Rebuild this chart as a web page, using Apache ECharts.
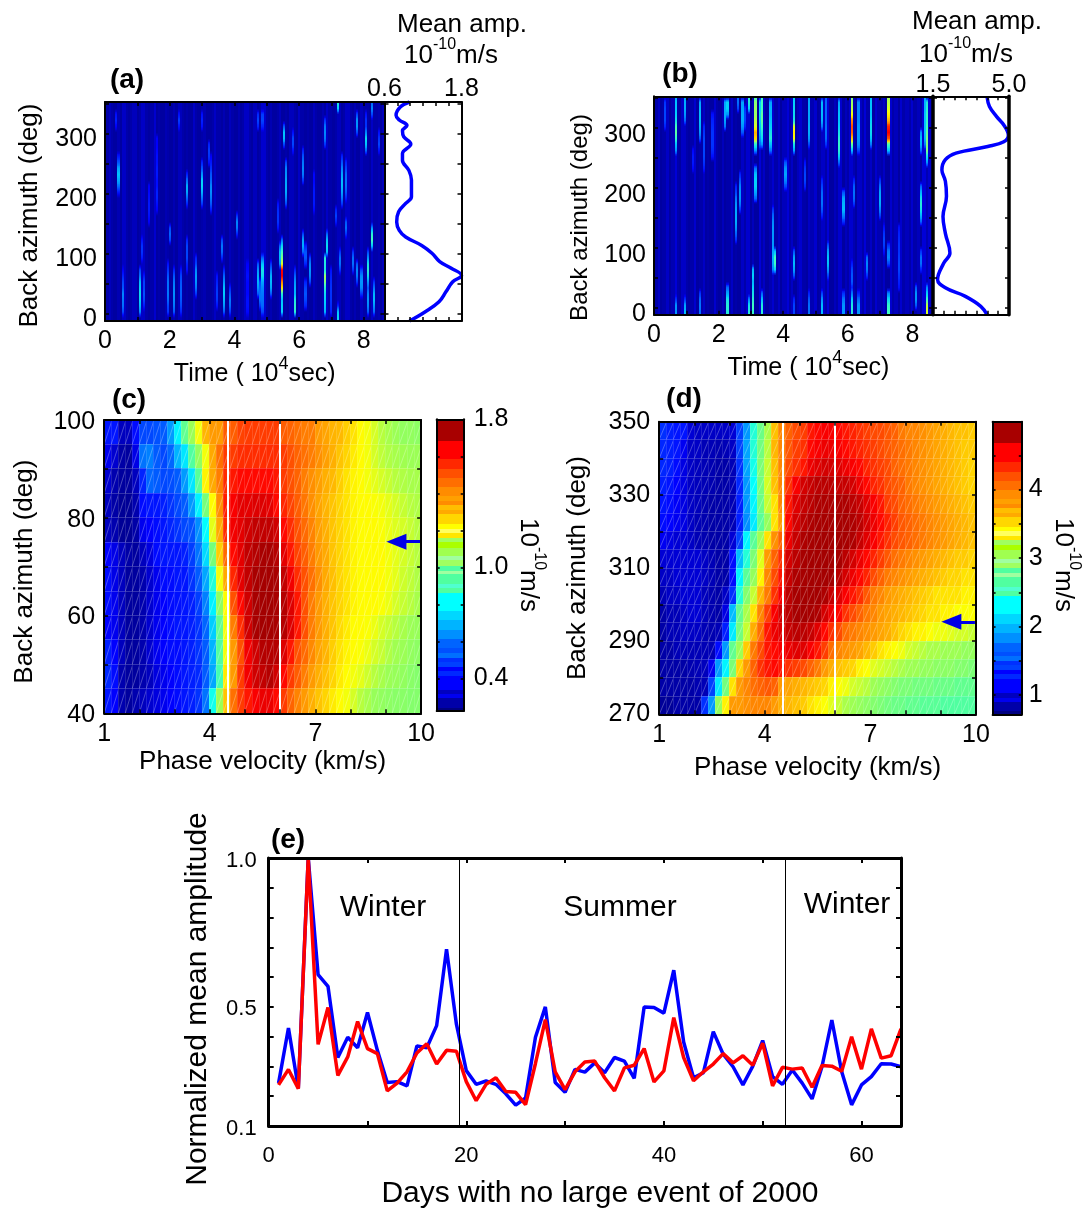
<!DOCTYPE html>
<html>
<head>
<meta charset="utf-8">
<title>Mean amplitude panels</title>
<script src="https://cdn.jsdelivr.net/npm/echarts@6/dist/echarts.min.js"></script>
<style>
html,body{margin:0;padding:0;background:#fff;}
#chart{width:1088px;height:1210px;}
</style>
</head>
<body>
<div id="chart"></div>
<script>
// ---- panel (e)
var days = [];
for (var d = 1; d <= 64; d++) days.push(d);
var blueAmp = [.244,.429,.227,1,.608,.569,.33,.398,.363,.481,.354,.246,.249,.235,.369,.363,.437,.694,.442,.286,.24,.251,.24,.208,.17,.194,.398,.5,.246,.213,.29,.281,.312,.279,.33,.318,.26,.5,.498,.479,.623,.382,.262,.279,.417,.341,.299,.238,.301,.387,.266,.24,.288,.244,.191,.299,.456,.282,.171,.238,.266,.309,.308,.299];
var redAmp = [.238,.29,.225,1,.374,.498,.27,.332,.451,.36,.343,.218,.244,.282,.345,.376,.308,.354,.351,.249,.185,.24,.262,.216,.213,.172,.31,.457,.282,.222,.282,.315,.318,.262,.218,.295,.304,.36,.248,.285,.464,.33,.252,.282,.308,.343,.312,.336,.304,.378,.235,.297,.291,.295,.23,.303,.301,.284,.4,.291,.426,.328,.336,.426];
var seasonLines = [19.25, 52.3];

// ---- mean amplitude curves (a), (b)
var curveAAz  = [353,345,331,323,314,305,295,283,267,256,239,223,195,184,170,153,139,128,114,101,87,76,64,53,37,20,3,-12];
var curveAAmp = [.99,.85,.78,.83,.95,.88,.90,1.01,.88,.88,.98,1.02,1.02,.93,.82,.79,.83,.93,1.18,1.34,1.46,1.64,1.8,1.66,1.56,1.45,1.23,.99];
var curveBAz  = [352,336,319,305,288,277,269,258,247,230,211,186,152,124,91,74,47,33,19,2,-12];
var curveBAmp = [3.99,4.1,4.43,4.76,4.97,4.76,4.02,2.56,2.07,1.91,2.07,2.12,1.96,2.07,2.28,1.99,1.71,2.07,2.97,3.7,3.99];

// ---- time / azimuth maps (a), (b): base level per time column, then streaks [time, azimuth start, levels every 10 deg]
var baseA = [.3,.5,.3,.2,.4,.2,.6,.3,.2,.3,.5,.2,.3,.6,.3,.2,.3,.7,.2,.3,.2,.4,.3,.2,.4,.2,.5,.3,.2,.3,.2,.6,.3,.2,.3,.4,.2,.2,.3,.6,.3,.2,.4,.2,.5,.3,.2,.4,.2,.3,.6,.3,.2,.5,.2,.3,.7,.3,.2,.4,.2,.3,.5,.2,.3,.2,.5,.3,.2,.6,.3,.2,.3,.2,.5,.3,.2,.4,.2,.6,.3,.2,.3,.5,.2,.3,.6,.3,.2,.4,.2,.5,.3,.3,.2,.6,.3,.4,.2,.5];
var streaksA = [
  [.41,200,[1.5,2.5,3.2,3.6,3.2,2.2,1.5]],[.38,310,[1.2,1.6,1.4]],[.54,0,[2,2.5,2.6,2.8,2.2,2,1.6,1.2]],
  [1.1,0,[2.8,3.5,3.8,4,3.8,3.5,2.6,2]],[1.24,5,[1.5,2,2.2,2,2,1.5]],[1.34,150,[1.2,1.4,1.5,1.5,1.4,1.3,1.2]],
  [1.19,90,[1.5,1.8,1.8,1.4]],[1.6,170,[1.2,1.4,1.6,1.6,1.4,1.4,1.5,1.5,1.4,1.4,1.3,1.2,1.2]],[2.01,120,[2,2.4,2]],
  [1.96,0,[1.8,2,2.4,2.6,2.5,2.5,2.2,1.8,1.4]],[2.15,0,[2.2,2.6,2.8,2.9,2.8,2.6,2.2,1.6]],[2.37,0,[1.6,2,2.2,2.3,2.3,2.2,2,1.5]],
  [2.53,175,[1.6,2.4,3.2,3.3,2.5,1.6]],[2.53,65,[1.4,1.6,2,2,2,1.6]],[2.82,25,[1.8,2.6,3,3.1,2.8,2,1.6]],
  [3.05,180,[1.8,2.6,3.4,3.9,3.8,3,2.2,1.6]],[3.05,310,[1.4,1.6,1.4]],[3.2,250,[1.4,1.8,1.9,1.6]],
  [3.3,170,[1.5,2.2,2.6,2.9,2.8,2.4,2.2,1.8,1.5,1.2]],[3.65,85,[1.6,2.4,2.6,2]],[3.72,0,[2.2,3,3.4,3.7,3.6,3,2.4,1.6]],
  [3.89,0,[1.8,2.4,2.6,2.2,1.6]],[3.48,10,[1.4,1.8,1.9,1.8,1.6,1.4]],[2.32,310,[1.4,1.9,1.4]],
  [4.08,125,[1.6,2.6,2.8,1.8]],[4.44,0,[1.3,1.4,1.4,1.3,1.3,1.3,1.4,1.3,1.2]],[4.72,25,[2.2,3,3.4,3.4,3,2.2]],
  [4.9,0,[2,2.4,2.5,2.6,2.8,3.2,4,4.2,3.6,2.4]],[4.85,5,[1.8,2.5,2.5,2.3,2]],[4.9,305,[1.6,2,1.9]],[4.75,305,[1.6,2,1.7]],
  [5.13,25,[2.2,3.2,3.5,3.4,2.6,1.8]],[5.35,140,[1.4,1.8,1.8,1.7,1.4]],
  [5.49,0,[3.8,3.8,3.6,4.5,6.5,7.5,8.9,8.8,6,5.4,5,4,2.5]],[5.44,80,[3,3.5,3.5,2.4]],[5.54,275,[2,3.5,3.6,2.2]],
  [5.62,180,[2,2.8,3.3,3.3,3.2,3,2.8,2]],[5.8,265,[1.4,2,2,1.4]],[5.91,0,[4.6,4.6,4.4,3.4,3.3,3,2.4,1.6]],
  [6.12,220,[1.8,2.6,2.8,2.6,2.2,1.6]],[6.14,100,[2.4,3.3,3.2,2]],[6.22,80,[1.6,2.2,2.2,1.6]],[6.37,45,[2,2.8,3,2.8,2]],
  [6.22,5,[1.6,2,2.2,2,1.6]],[6.5,170,[1.3,1.5,1.5,1.5,1.4,1.3,1.3]],[6.81,275,[1.8,2.6,2.8,2.6,1.8]],[6.88,100,[3.6,4,3.6,2.4]],
  [6.83,70,[3.6,4.4,4.5]],[6.79,0,[3.4,3.6,3.8,4,4.6,5.4,5.6,4.4]],[7.02,0,[1.6,1.7,1.8,1.8,1.8,1.7,1.6,1.4]],
  [7.23,335,[3.8,4.5,4.2]],[7.23,-10,[4,3.6,1.6]],[7.27,70,[1.8,2.5,2.5,1.8]],[7.34,175,[1.8,2.6,3.2,3.5,3.5,3.2,2.8,2.2,1.6]],
  [7.51,190,[1.6,2.2,2.5,2.5,2.4,2,1.6]],[7.46,125,[1.8,2.5,2.2]],[7.17,145,[1.5,2,1.6]],[7.69,70,[1.8,2.5,2.5,1.8]],
  [7.84,300,[2,3,3,2]],[7.79,45,[1.8,2.6,2.8,2.2]],[7.93,25,[1.8,2.8,3,2.8,2]],[8.05,300,[1.4,1.8,1.8,1.4]],[8.1,265,[2.4,3.6,4,2.8]],
  [8.15,50,[3,4,4.5,4.2,3,2]],[8.12,0,[2.2,2.8,3,2.8,2.2]],[8.29,110,[3.6,5,4.6,3]],[8.36,0,[2.4,3,3.5,3.4,2.6,1.8]],
  [8.29,330,[2,2.8,2.4]],[8.46,265,[1.4,2,1.8,1.4]]
];
var baseB = [.3,.6,.2,.3,.6,.2,.4,.8,.3,.2,.6,.3,.2,.3,.7,.2,.3,.6,.2,.3,.2,.7,.3,.2,.5,.2,.3,.6,.2,.3,.2,.6,.3,.7,.2,.5,.2,.8,.3,.6,.2,.4,.7,.3,.6,.2,.5,.8,.3,.6,.2,.5,.7,.3,.2,.6,.4,.7,.2,.3,.6,.3,.8,.2,.5,.3,.7,.2,.5,.3,.7,.4,.2,.6,.3,.8,.3,.6,.2,.7,.4,.3,.6,.2,.7,.3,.5,.2,.7,.3,.5,.3,.7,.3,.5,.2,.8,.4,.7,.6];
var streaksB = [
  [.71,255,[3,3.6,4.8,5.2,5,4.2,3.8,3.6,3.6,3.2]],[.71,-10,[3,3,1.8]],[.98,310,[2.4,3,3.3,3.3,3.2]],[.98,-10,[3.5,3.2,1.8]],
  [1.42,280,[2.2,3,3.4,3.5,3.5,3.4,3.2]],[1.42,-10,[2.5,2.6,2.4,1.8]],[.34,300,[1.6,2,2,2,1.8]],[1.22,225,[1.3,1.5,1.5,1.3]],
  [1.58,230,[1.5,1.8,2,2,2,2,1.8,1.6]],[1.84,250,[1.4,1.7,1.8,1.8,1.8,1.7,1.6,1.4]],[2.2,300,[2.6,3.2,3.3,3.3,3.2]],
  [2.32,-10,[4.5,4.5,4.2,3.2,2.4]],[2.32,315,[3,3.8,3.8]],[2.61,325,[2,2.5,2.4]],[2.59,110,[1.8,2.4,3,3.3,3.3,3.2,3,2.6,2,1.6]],
  [2.67,155,[1.8,2.6,3,3,2.8,2.2,1.6]],[2.74,290,[2.2,3,3.3,3.3,3.2,3.2]],[2.85,300,[1.6,2,2,1.8]],[2.98,325,[3.8,4.4,4.6]],[2.98,-10,[4.5,4.2,2.8]],
  [3.15,255,[3,4.6,6.6,7,6,5.8,5.6,5.6,5.5,5]],[3.1,-10,[4.8,5,4.6,4.2,3.8]],[3.19,175,[2.4,3.2,3.8,3.8,3.6,2.6]],[3.1,30,[2.6,3.4,3.8,3.4]],
  [3.36,265,[3,4,4.4,5,5.2,5.2,5,5,5,4.8]],[3.3,265,[2.4,3,3.4,3.6,3.8,4,3.8,3.8]],[3.36,-10,[4.6,4.5,3.6,2.4]],[3.64,255,[2.6,3.6,4.5,4.2,3.8,3.6,3.4,3.4,3.2]],
  [3.7,60,[2.8,3.2,3.4,3.2,3,3,3,3,2.8,2.4,1.8]],[3.75,60,[3.8,5,5,3.6]],[4.11,200,[2,2.8,3.2,3,2.2]],
  [4.38,255,[3.2,4.2,6.2,6.4,6,4.4,4,4,3.8,3.8]],[4.37,50,[2.2,3.2,3.5,3.2,2.2]],[4.37,-10,[2,2,1.6]],[4.67,200,[1.6,2,2,1.8,1.4]],
  [4.83,265,[2,3,3.3,3.3,3.2,3.2,3.2,3.2,3]],[4.83,-10,[2.5,2.5,2.2,1.6]],[5.21,150,[1.6,2.2,2.5,2.5,2.4,2,1.6]],[5.24,300,[2.6,3.4,3.5,3.5,3.5]],
  [5.24,-10,[3.5,3.5,3,2]],[5.33,265,[1.8,2.4,2.5,2.5,2.4,2.4,2.4,2.4,2.2]],[5.43,50,[2,3,3.6,3.6,3.2,2.2]],
  [5.76,240,[2.4,3.8,4.6,4.8,4.6,4.2,3.8,3.6,3.6,3.4,3.2]],[5.91,140,[1.8,2.8,3.5,3.4,3.2,2.2]],[5.91,-10,[3,3,2.6,1.8]],[6.12,30,[1.6,2.2,2.2,2,1.5]],
  [6.15,255,[3.6,5.2,6.8,7.8,8,7.4,6.2,5.8,5.6,5.4]],[6.15,-10,[4.5,4.4,3.8,2.6]],[6.2,165,[1.8,2.4,2.5,2.3,1.6]],[6.38,260,[2,2.8,3,3,3,2.8,2.8,2.8,2.8]],
  [6.38,-10,[3,3,2.4,1.6]],[6.58,50,[1.8,2.6,2.8,2.4]],[6.77,265,[2.6,3.6,4,4,3.8,3.6,3.6,3.6,3.4]],[7.03,150,[2,2.8,3.3,3.3,3.2,2.6,1.8]],
  [7.27,255,[3.6,5,8,8.8,8.4,7,6.4,6,5.8,5.6]],[7.27,-10,[5,4.8,4,2.8]],[7.27,65,[2,2.8,2.6,1.8]],[7.15,85,[1.4,1.9,2,1.8,1.4]],
  [7.6,30,[1.4,1.6,1.8,2,2,1.9,1.8,1.8,1.7,1.6,1.4]],[8.27,255,[2.4,3.4,3.5,3]],[8.3,140,[2.4,3.4,4.2,4.5,4.2,3.4,2.4]],[8.3,55,[1.6,2.5,2.5,1.8]],
  [8.39,265,[2.6,3.4,3.6,3.6,3.6,3.6,3.4,3.4,3.2]],[8.49,240,[3,4.2,5.4,5.4,5.4,5.2,5,4.8,4.8,4.6,4.4]],[8.49,-10,[6,5.8,5,3.8,2.8]],[8.16,0,[2.2,3,3,2.2]]
];

// ---- phase velocity / azimuth maps (c), (d), top row first, one column every 0.2 km/s, one row every 5 deg
var mapC = [
  [42,42,30,30,40,52,52,54,56,66,80,95,108,120,133,138,138,148,148,152,153,153,153,153,153,148,147,145,143,143,138,136,133,132,128,125,122,120,116,112,110,108,106,106,105],
  [36,32,27,26,35,60,62,56,52,58,70,78,92,106,120,135,145,153,153,155,155,155,155,155,155,153,150,147,145,143,140,137,134,130,127,124,122,120,116,113,111,110,109,108,108],
  [32,28,26,26,30,45,58,56,52,53,56,66,78,93,123,135,143,155,158,160,160,160,160,160,158,153,150,147,143,140,137,134,132,128,125,123,122,120,118,116,114,112,111,110,110],
  [30,27,25,25,28,40,42,42,44,48,52,56,66,80,100,122,140,157,162,165,165,166,166,165,160,156,152,148,144,140,136,133,130,127,125,123,122,122,121,120,118,116,114,112,111],
  [30,28,25,25,27,36,38,40,42,45,48,52,54,64,82,118,135,155,163,165,168,170,170,170,168,160,155,150,146,142,137,134,130,127,125,123,122,122,122,121,119,117,116,114,112],
  [38,35,30,27,26,30,34,40,42,42,42,44,50,60,76,100,128,146,160,165,170,172,174,174,172,165,158,152,148,143,138,135,130,127,125,123,122,122,122,122,120,118,116,114,112],
  [40,35,30,26,26,28,32,36,40,40,42,42,48,56,68,86,120,135,156,165,170,174,176,176,174,170,163,155,150,145,140,135,131,127,125,123,122,122,122,122,120,118,115,113,111],
  [40,36,30,26,26,28,32,36,38,40,41,42,44,50,62,80,105,122,150,160,168,174,178,178,174,172,166,158,150,143,138,134,130,127,125,123,122,122,122,121,119,116,114,112,110],
  [38,36,30,26,26,28,32,36,38,40,42,42,44,48,58,74,95,120,143,155,168,174,178,176,174,172,166,158,150,143,138,134,130,126,124,122,122,121,119,116,114,112,110,108,107],
  [44,38,30,26,26,28,32,36,38,40,40,42,44,48,56,70,92,120,138,150,163,168,172,172,172,166,158,150,146,141,136,133,128,125,123,122,121,119,116,114,111,109,108,106,105],
  [46,40,28,26,26,28,30,34,36,38,40,42,44,46,56,68,90,124,138,153,163,168,170,172,168,160,153,148,143,138,134,131,127,124,122,120,118,115,112,110,108,107,106,104,103],
  [42,38,28,26,28,30,32,34,36,38,40,42,44,48,60,84,108,130,145,153,158,162,164,164,160,153,147,142,138,134,130,127,124,122,120,116,112,110,107,106,105,104,104,103,103]
];
var mapD = [
  [140,130,125,125,100,95,95,95,95,95,100,150,190,245,275,310,365,395,410,420,425,440,445,450,450,445,440,435,430,425,420,420,415,410,400,395,395,390,385,380,375,370,365,365,360],
  [135,130,125,110,95,95,90,90,88,90,95,150,195,245,280,315,370,395,415,425,430,445,450,455,455,450,445,440,435,430,425,420,415,410,405,400,395,390,385,380,375,370,365,360,360],
  [135,130,120,105,95,92,90,88,85,85,90,140,195,240,285,320,365,395,420,430,440,455,460,465,465,460,455,450,445,435,430,425,420,410,405,400,395,390,385,380,375,370,365,360,355],
  [130,125,115,105,95,92,90,88,85,85,90,135,190,235,280,325,365,395,430,450,465,470,475,475,475,470,470,465,455,445,435,430,420,415,410,400,395,390,385,380,375,370,365,360,355],
  [125,120,112,105,95,92,88,85,85,85,90,130,190,230,275,320,350,395,440,460,470,475,480,480,480,480,480,475,470,460,450,440,425,420,410,405,400,395,390,385,380,375,370,365,360],
  [120,115,110,105,95,90,88,85,85,85,90,130,185,225,265,300,350,385,445,465,475,480,485,485,485,485,485,480,475,465,455,445,435,425,415,410,405,400,395,390,385,380,375,370,365],
  [110,105,100,100,95,90,88,85,85,85,100,150,230,265,305,350,390,410,455,470,480,485,490,490,490,490,485,480,470,460,450,440,430,420,415,410,405,400,395,390,385,380,375,370,365],
  [100,100,100,100,100,100,95,90,85,85,120,205,245,285,330,385,410,430,465,475,485,490,490,490,490,485,475,465,455,445,435,425,415,405,400,395,390,385,380,375,370,365,360,360,355],
  [95,95,100,100,100,100,95,90,85,85,120,230,265,300,345,395,420,440,470,480,485,490,490,490,490,475,465,455,445,435,420,410,400,395,390,385,380,375,370,365,360,355,355,350,350],
  [90,95,95,100,100,100,92,88,85,95,140,245,290,320,370,400,430,450,475,485,490,490,490,480,470,460,450,440,430,415,400,395,385,380,375,370,365,360,355,350,350,350,350,345,345],
  [85,90,90,95,100,100,92,88,85,105,205,270,310,350,395,425,450,465,475,485,490,485,480,465,455,445,430,420,410,400,395,385,380,375,370,365,360,355,350,350,345,345,340,340,340],
  [85,90,90,95,95,95,90,88,90,130,225,280,320,375,405,440,455,460,470,475,475,470,460,445,430,420,405,400,395,390,385,380,375,365,355,350,345,345,340,335,335,330,325,325,320],
  [85,85,90,90,90,90,90,90,120,190,270,305,360,400,420,440,445,450,455,460,460,450,440,425,405,395,390,385,380,370,360,350,345,340,335,325,320,315,310,310,305,305,305,300,300],
  [85,85,85,85,88,90,92,110,190,230,285,355,385,410,430,440,445,440,430,425,420,410,400,385,375,365,360,355,345,340,330,325,320,315,310,305,305,300,300,295,295,295,290,290,285],
  [85,85,85,85,85,88,90,150,225,280,350,385,395,405,410,415,410,385,380,375,370,365,360,355,345,340,335,325,320,315,305,300,295,290,285,285,280,280,280,275,275,275,270,270,270],
  [80,80,85,85,85,85,140,190,300,345,385,385,390,395,395,395,385,375,370,365,360,350,345,340,330,320,310,305,300,295,290,285,280,275,275,270,270,265,265,265,260,260,260,260,260]
];
var markVelocities = [4.5, 6];

// ---- colour bar of (c), (d): band starts as a fraction of the bar, bottom to top
var bandStarts = [0,.0137,.0446,.059,.0754,.122,.138,.154,.17,.184,.202,.216,.247,.281,.312,.343,.406,.422,.438,.47,.483,.5,.518,.532,.562,.582,.596,.611,.627,.642,.676,.691,.707,.721,.739,.768,.8,.831,.865,.928];
var bandColors = ['#000080','#0000a8','#0000f0','#0000c0','#0000ff','#0028ff','#0000ff','#0040ff','#0030ff','#0070ff','#0050ff','#0064ff','#0090ff','#00b4ff','#00d7ff','#00ffff','#50ffa0','#50ffd0','#50ffa0','#a0ffa0','#50ffa0','#a0ff60','#a0ffa0','#a0ff50','#aaff00','#a0ff60','#ffe600','#ffff60','#ffff00','#ffd700','#ffaa00','#ffbe00','#ff8c00','#ffa000','#ff8c00','#ff6e00','#ff5000','#ff2800','#ff0000','#a80000'];
// colours of the map cells themselves, a little smoother than the bar
var rampStops  = [0,.05,.1,.22,.33,.38,.44,.55,.63,.66,.75,.81,.88,.96,1];
var rampColors = ['#000080','#0000c0','#0000ff','#0060ff','#00d0ff','#00ffff','#50ffa0','#a0ff50','#ffff00','#ffd700','#ff8c00','#ff5000','#ff0000','#a80000','#a00000'];
var jetColors = ['#00008f','#0000ff','#0070ff','#00d0ff','#40ffc0','#ffff00','#ff8000','#ff0000','#800000'];

var FONT = '"Liberation Sans", Arial, sans-serif';
var TIME_SPAN = 8.64, TIME_COLS = 130;
var grids = [], xAxes = [], yAxes = [], series = [];

function numFmt(v) { return v.toFixed(1); }
function plainFmt(v) { return String(v); }

function jetColor(v) { return echarts.color.lerp(Math.min(1, v / 10), jetColors); }
function rampColor(f) {
  f = Math.max(0, Math.min(1, f));
  for (var i = 1; i < rampStops.length; i++) {
    if (f <= rampStops[i]) return echarts.color.lerp((f - rampStops[i - 1]) / (rampStops[i] - rampStops[i - 1]), [rampColors[i - 1], rampColors[i]]);
  }
  return rampColors[rampColors.length - 1];
}

function oneAxis(o, gridIndex, pos, withLabels) {
  var labelsOn = withLabels && o.labels;
  var fmt = o.fmt || plainFmt;
  var size = o.size || 25;
  var label = {show: false};
  if (labelsOn) {
    label = {
      show: true, customValues: o.labels, color: '#000', fontFamily: FONT, fontSize: size,
      margin: o.margin === undefined ? 8 : o.margin, hideOverlap: false, showMinLabel: true, showMaxLabel: true,
      formatter: fmt
    };
    if (o.pad) { // source labels sit lower than their ticks
      label.formatter = function (v) { return '{v|' + fmt(v) + '}'; };
      label.rich = {v: {padding: [o.pad, 0, 0, 0], color: '#000', fontFamily: FONT, fontSize: size}};
    }
  }
  return {
    type: 'value', gridIndex: gridIndex, position: pos, min: o.min, max: o.max, z: 6,
    name: withLabels && o.name ? o.name : '',
    nameLocation: 'middle', nameGap: o.nameGap || 0,
    nameTextStyle: {fontFamily: FONT, fontSize: o.nameSize || 26, color: '#000', rich: o.nameRich, padding: o.namePad || 0},
    splitLine: {show: false}, minorTick: {show: false},
    axisLine: {show: true, onZero: false, lineStyle: {color: '#000', width: o.lineW || 2}},
    axisTick: {show: true, inside: true, length: o.tickLen || 4, customValues: o.ticks, lineStyle: {color: '#000', width: o.tickW || 1.5}},
    axisLabel: label
  };
}

// one grid with all four sides drawn, labels only where asked
function addFrame(box, xo, yo) {
  var g = grids.length;
  grids.push({left: box[0], top: box[1], width: box[2], height: box[3], containLabel: false, show: false});
  var xi = xAxes.length, yi = yAxes.length;
  xAxes.push(oneAxis(xo, g, xo.side || 'bottom', true));
  xAxes.push(oneAxis(xo, g, xo.side === 'top' ? 'bottom' : 'top', false));
  yAxes.push(oneAxis(yo, g, yo.side || 'left', true));
  yAxes.push(oneAxis(yo, g, yo.side === 'right' ? 'left' : 'right', false));
  return {x: xi, y: yi};
}

// (a), (b): cell fades into the azimuth neighbours, like the shaded source plot
function streakSeries(ax, data, dx, dy) {
  return {
    type: 'custom', xAxisIndex: ax.x, yAxisIndex: ax.y, data: data, clip: true, silent: true,
    encode: {x: 0, y: 1}, progressive: 0, z: 2,
    renderItem: function (params, api) {
      var a = api.coord([api.value(0), api.value(1)]);
      var b = api.coord([api.value(0) + dx, api.value(1) + dy]);
      var x0 = Math.floor(a[0]), x1 = Math.ceil(b[0]), y0 = b[1], y1 = a[1];
      var v = api.value(2), below = api.value(3), above = api.value(4);
      var fill = jetColor(v);
      if (below !== v || above !== v) {
        fill = new echarts.graphic.LinearGradient(0, 0, 0, 1, [
          {offset: 0, color: jetColor((v + above) / 2)}, {offset: .5, color: fill}, {offset: 1, color: jetColor((v + below) / 2)}
        ]);
      }
      return {type: 'rect', shape: {x: x0, y: Math.floor(y0), width: x1 - x0, height: Math.ceil(y1) - Math.floor(y0)}, style: {fill: fill, stroke: null}};
    }
  };
}

// (c), (d): flat cells with pale seams along each edge and diagonal
function seamSeries(ax, data, dx, dy, lo, hi) {
  return {
    type: 'custom', xAxisIndex: ax.x, yAxisIndex: ax.y, data: data, clip: true, silent: true,
    encode: {x: 0, y: 1}, progressive: 0, z: 2,
    renderItem: function (params, api) {
      var a = api.coord([api.value(0), api.value(1)]);
      var b = api.coord([api.value(0) + dx, api.value(1) + dy]);
      var x0 = Math.floor(a[0]), x1 = Math.ceil(b[0]), y0 = Math.floor(b[1]), y1 = Math.ceil(a[1]);
      return {type: 'group', children: [
        {type: 'rect', shape: {x: x0, y: y0, width: x1 - x0, height: y1 - y0}, style: {fill: rampColor((api.value(2) - lo) / (hi - lo)), stroke: null}},
        {type: 'line', shape: {x1: x0, y1: y0 + .5, x2: x1, y2: y0 + .5}, style: {stroke: 'rgba(255,255,255,.2)', lineWidth: 1}},
        {type: 'line', shape: {x1: x0 + .5, y1: y0, x2: x0 + .5, y2: y1}, style: {stroke: 'rgba(255,255,255,.12)', lineWidth: 1}},
        {type: 'line', shape: {x1: x0, y1: y1, x2: x1, y2: y0}, style: {stroke: 'rgba(255,255,255,.28)', lineWidth: 1}}
      ]};
    }
  };
}

function streakCells(base, streaks) {
  var rows = 37, vals = [];
  for (var c = 0; c < TIME_COLS; c++) {
    vals.push([]);
    var b = base[Math.floor(c * base.length / TIME_COLS)];
    for (var r = 0; r < rows; r++) vals[c].push(b);
  }
  streaks.forEach(function (s) {
    var col = Math.min(TIME_COLS - 1, Math.floor(s[0] / TIME_SPAN * TIME_COLS));
    s[2].forEach(function (lv, i) {
      var row = Math.round((s[1] + 10 * i + 12) / 10);
      if (row >= 0 && row < rows && lv > vals[col][row]) vals[col][row] = lv;
    });
  });
  var out = [];
  for (c = 0; c < TIME_COLS; c++) for (r = 0; r < rows; r++) {
    out.push([c * TIME_SPAN / TIME_COLS, -12 + 10 * r, vals[c][r],
      r > 0 ? vals[c][r - 1] : vals[c][r], r < rows - 1 ? vals[c][r + 1] : vals[c][r]]);
  }
  return out;
}

function gridCells(map, azTop) {
  var out = [];
  map.forEach(function (row, r) {
    row.forEach(function (v, c) {
      out.push([1 + .2 * c, azTop - 5 * (r + 1), v / 100]);
    });
  });
  return out;
}

function curveData(amp, az) { return amp.map(function (v, i) { return [v, az[i]]; }); }

var timeRich = {
  t: {fontFamily: FONT, fontSize: 25, color: '#000', lineHeight: 32, verticalAlign: 'bottom'},
  s: {fontFamily: FONT, fontSize: 18, color: '#000', lineHeight: 32, verticalAlign: 'top', padding: [0, 0, 10, 0]}
};

function mapPanel(box, curveBox, base, streaks, cfg) {
  var azTicks = [0,50,100,150,200,250,300,350];
  var yo = {min: -12, max: 353, ticks: azTicks, labels: [0,100,200,300], name: 'Back azimuth (deg)', nameGap: cfg.yGap, nameSize: cfg.ySize, namePad: cfg.yPad, margin: 8, pad: cfg.labelPad};
  var ax = addFrame(box, {min: 0, max: TIME_SPAN, ticks: [1,2,3,4,5,6,7,8], labels: [0,2,4,6,8], name: '{t|Time ( 10}{s|4}{t|sec)}', nameRich: timeRich, nameGap: cfg.xGap, namePad: cfg.xPad}, yo);
  series.push(streakSeries(ax, streakCells(base, streaks), TIME_SPAN / TIME_COLS, 10));
  var axC = addFrame(curveBox, {min: cfg.ampMin, max: cfg.ampMax, ticks: cfg.ampTicks, labels: [cfg.ampMin, cfg.ampMax], fmt: numFmt, side: 'top', margin: cfg.topMargin},
    {min: -12, max: 353, ticks: azTicks, tickLen: 4, labels: null, lineW: cfg.spine});
  series.push({type: 'line', xAxisIndex: axC.x, yAxisIndex: axC.y, data: curveData(cfg.amp, cfg.az), smooth: .4, symbol: 'none', clip: true, lineStyle: {color: '#0000ff', width: 3.5}, z: 3});
}

function velPanel(box, cbarBox, map, cfg) {
  var ax = addFrame(box, {min: 1, max: 10, ticks: [2,3,4,5,6,7,8,9], labels: [1,4,7,10], name: 'Phase velocity (km/s)', nameGap: cfg.xGap},
    {min: cfg.azMin, max: cfg.azMax, ticks: cfg.azTicks, labels: cfg.azLabels, name: 'Back azimuth (deg)', nameGap: cfg.yGap, namePad: cfg.yPad, margin: 9, pad: cfg.labelPad});
  series.push(seamSeries(ax, gridCells(map, cfg.azMax), .2, 5, cfg.barMin, cfg.barMax));
  series.push({
    type: 'line', xAxisIndex: ax.x, yAxisIndex: ax.y, data: [], symbol: 'none', z: 4,
    markLine: {silent: true, symbol: 'none', animation: false, label: {show: false}, lineStyle: {color: '#fff', width: 2, type: 'solid'},
      data: markVelocities.map(function (v) { return {xAxis: v}; })}
  });
  series.push({
    type: 'line', xAxisIndex: ax.x, yAxisIndex: ax.y, data: [], symbol: 'none', z: 5,
    markLine: {silent: true, symbol: ['none','triangle'], symbolSize: [16, 20], animation: false, label: {show: false}, lineStyle: {color: '#0000e6', width: 3, type: 'solid'},
      data: [[{coord: [9.97, cfg.arrowAz]}, {coord: [9.3, cfg.arrowAz]}]]}
  });
  var axB = addFrame(cbarBox, {min: 0, max: 1, ticks: [], labels: null, lineW: 2},
    {min: cfg.barMin, max: cfg.barMax, ticks: cfg.barTicks, labels: cfg.barLabels, fmt: cfg.barFmt, side: 'right', margin: cfg.barMargin, tickLen: 3});
  var bars = bandColors.map(function (c, i) {
    return [cfg.barMin + (cfg.barMax - cfg.barMin) * bandStarts[i], i + 1 < bandStarts.length ? cfg.barMin + (cfg.barMax - cfg.barMin) * bandStarts[i + 1] : cfg.barMax, c];
  });
  series.push({
    type: 'custom', xAxisIndex: axB.x, yAxisIndex: axB.y, data: bars, silent: true, z: 2, encode: {y: [0, 1]},
    renderItem: function (params, api) {
      var a = api.coord([0, api.value(0)]), b = api.coord([1, api.value(1)]);
      return {type: 'rect', shape: {x: a[0], y: Math.floor(b[1]), width: b[0] - a[0], height: Math.ceil(a[1]) - Math.floor(b[1])}, style: {fill: bars[params.dataIndex][2]}};
    }
  });
}

mapPanel([105, 102, 279.5, 219], [384.5, 102, 77, 219], baseA, streaksA,
  {yGap: 62, ySize: 26, yPad: [0,8,0,0], xGap: 33, xPad: [0,0,0,20], labelPad: 10, topMargin: 0, ampMin: .6, ampMax: 1.8, ampTicks: [.8,1,1.2,1.4,1.6], amp: curveAAmp, az: curveAAz, spine: 2});
mapPanel([654, 96.3, 279, 218.4], [933, 96.3, 76, 218.4], baseB, streaksB,
  {yGap: 62, ySize: 24, yPad: [0,24,0,0], xGap: 23, xPad: [0,0,0,30], labelPad: 14, topMargin: -1.5, ampMin: 1.5, ampMax: 5, ampTicks: [2,2.5,3,3.5,4,4.5], amp: curveBAmp, az: curveBAz, spine: 3.5});
velPanel([104.1, 420, 317, 293.3], [436.7, 419.3, 27, 291.7], mapC,
  {xGap: 36, yGap: 66, yPad: [0,10,0,0], labelPad: 4, azMin: 40, azMax: 100, azTicks: [50,60,70,80,90], azLabels: [40,60,80,100], arrowAz: 75.1,
   barMin: .223, barMax: 1.8, barTicks: [.4,.6,.8,1,1.2,1.4,1.6], barLabels: [.4,1,1.8], barFmt: numFmt, barMargin: 10});
velPanel([659.2, 421.7, 316.8, 292.6], [992.6, 421.7, 29.2, 292.6], mapD,
  {xGap: 41, yGap: 68, azMin: 270, azMax: 350, azTicks: [280,290,300,310,320,330,340], azLabels: [270,290,310,330,350], arrowAz: 295.3,
   barMin: .72, barMax: 4.99, barTicks: [1,1.5,2,2.5,3,3.5,4,4.5], barLabels: [1,2,3,4], barFmt: plainFmt, barMargin: 7});

// panel (e)
var axE = addFrame([268.7, 858, 632.3, 272],
  {min: 0, max: 64, ticks: [10,20,30,40,50,60], labels: [0,20,40,60], size: 22, margin: 19, lineW: 3, tickLen: 5, tickW: 2, name: 'Days with no large event of 2000', nameSize: 30, nameGap: 53, namePad: [0,0,0,30]},
  {min: .1, max: 1, ticks: [.2,.3,.4,.5,.6,.7,.8,.9], labels: [.1,.5,1], fmt: numFmt, size: 22, margin: 12, pad: 5, lineW: 3, tickLen: 5, tickW: 2, name: 'Normalized mean amplitude', nameSize: 30, nameGap: 56, namePad: [0,14,0,0]});
function dayData(vals) { return days.map(function (d, i) { return [d, vals[i]]; }); }
series.push({
  type: 'line', name: 'blue', xAxisIndex: axE.x, yAxisIndex: axE.y, data: dayData(blueAmp), symbol: 'none', clip: true, lineStyle: {color: '#0000ff', width: 3.5}, z: 3,
  markLine: {silent: true, symbol: 'none', animation: false, label: {show: false}, lineStyle: {color: '#000', width: 1, type: 'solid'},
    data: seasonLines.map(function (v) { return {xAxis: v}; })}
});
series.push({type: 'line', name: 'red', xAxisIndex: axE.x, yAxisIndex: axE.y, data: dayData(redAmp), symbol: 'none', clip: true, lineStyle: {color: '#ff0000', width: 3.5}, z: 4});

function unitLabel(cx, cy, rotate) {
  return {
    type: 'text', x: cx, y: cy, rotation: rotate ? -Math.PI / 2 : 0, z: 20, silent: true,
    style: {
      text: '{a|10}{b|-10}{a|m/s}', textAlign: 'center', textVerticalAlign: 'middle', fill: '#000',
      rich: {
        a: {fontFamily: FONT, fontSize: 26, fill: '#000', lineHeight: 32, verticalAlign: 'bottom'},
        b: {fontFamily: FONT, fontSize: 16, fill: '#000', lineHeight: 32, verticalAlign: 'top'}
      }
    }
  };
}
function text(t, size, cx, cy, bold) {
  return {type: 'text', x: cx, y: cy + 2, z: 20, silent: true, style: {text: t, font: (bold ? 'bold ' : '') + size + 'px ' + FONT, fill: '#000', textAlign: 'center', textVerticalAlign: 'middle'}};
}
var graphics = [
  text('(a)', 28, 127, 78, true), text('(b)', 28, 680, 72, true), text('(c)', 28, 129, 398, true), text('(d)', 28, 684, 397, true), text('(e)', 28, 288, 838, true),
  text('Mean amp.', 26, 462, 23), text('Mean amp.', 26, 977, 20),
  unitLabel(451, 53, false), unitLabel(966, 52, false), unitLabel(531, 565, true), unitLabel(1066, 565, true),
  text('Winter', 30, 383, 906), text('Summer', 30, 620, 906), text('Winter', 30, 847, 903)
];

var option = {
  backgroundColor: '#fff',
  animation: false,
  textStyle: {fontFamily: FONT},
  grid: grids,
  xAxis: xAxes,
  yAxis: yAxes,
  series: series,
  graphic: {elements: graphics}
};

var chart = echarts.init(document.getElementById('chart'), null, {renderer: 'canvas'});
chart.setOption(option);
</script>
</body>
</html>
